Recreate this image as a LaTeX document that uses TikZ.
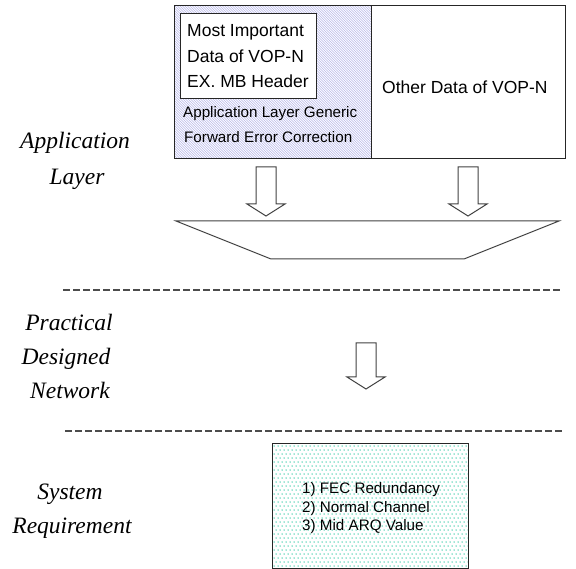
\documentclass[tikz,border=0pt]{standalone}
\usepackage{fontspec}
\setmainfont{Liberation Serif}
\newfontfamily\arialf{Liberation Sans}
\newcommand\blkarrow[5]{% name, x, ytop, yhead, ytip
  \coordinate (#1) at (#2,#5);
  \draw[arrline] (#2-10,#3) -- (#2+10,#3) -- (#2+10,#4) -- (#2+19,#4) -- (#2,#5)
     -- (#2-19,#4) -- (#2-10,#4) -- cycle;}
\definecolor{hatchc}{RGB}{180,180,232}
\definecolor{dotc}{RGB}{60,205,170}
\begin{document}
\begin{tikzpicture}[x=1pt,y=-1pt,
  lay/.style={font=\fontsize{23.5}{28}\selectfont\itshape, inner sep=0pt, anchor=base},
  big/.style={font=\arialf\fontsize{17.5}{21}\selectfont, inner sep=0pt, anchor=base west},
  small/.style={font=\arialf\fontsize{15.2}{18}\selectfont, inner sep=0pt, anchor=base west},
  boxline/.style={draw=black!85, line width=1pt},
  arrline/.style={draw=black!75, line width=1pt, line join=miter},
  sepline/.style={draw=black!70, line width=1.1pt, dash pattern=on 7pt off 3pt}]
\useasboundingbox (0,0) rectangle (576,569);

% top boxes: hatched part
\begin{scope}
  \clip (174,5) rectangle (371,158);
  \foreach \i in {0,1,...,145} {
    \draw[hatchc, line width=0.45pt] (174-160+2.5*\i,5) -- ++(160,160);
  }
\end{scope}
\node[boxline, minimum width=391pt, minimum height=153pt, inner sep=0pt, anchor=north west] (top) at (174,5) {};
\draw[boxline] (371,5) -- (371,158);
\node[boxline, fill=white, minimum width=136pt, minimum height=85pt, inner sep=0pt, anchor=north west] (mi) at (180,13) {};

\node[big] (mi1) at (187,37) {Most Important};
\node[big] (mi2) at (187,63) {Data of VOP-N};
\node[big] (mi3) at (187,88) {EX. MB Header};
\node[small] (fec1) at (183,118) {Application Layer Generic};
\node[small] (fec2) at (184,143) {Forward Error Correction};
\node[big] (oth) at (382,94) {Other Data of VOP-N};

% arrows
\blkarrow{a1}{266}{167}{204}{216}
\blkarrow{a2}{468}{167}{204}{216}

% trapezoid
\draw[arrline] (176,221) -- (559,221) -- (464,259) -- (271,259) -- cycle;

% separators
\coordinate (s1a) at (63,290); \coordinate (s1b) at (562,290);
\coordinate (s2a) at (65,431); \coordinate (s2b) at (562,431);
\draw[sepline] (s1a) -- (s1b);
\draw[sepline] (s2a) -- (s2b);

\blkarrow{a3}{366}{343}{377}{389}

% bottom box with dotted fill
\begin{scope}
  \clip (272,443) rectangle (468,568);
  \foreach \r in {0,1,...,31} {
    \pgfmathsetmacro\yy{446+4*\r}
    \pgfmathsetmacro\xo{274+2*mod(\r,2)}
    \foreach \c in {0,1,...,49} {
      \fill[dotc] (\xo+4*\c,\yy) circle (0.75pt);
    }
  }
\end{scope}
\node[boxline, minimum width=196pt, minimum height=125pt, inner sep=0pt, anchor=north west] (req) at (272,443) {};
\node[small] (r1) at (302,493) {1) FEC Redundancy};
\node[small] (r2) at (302,512) {2) Normal Channel};
\node[small] (r3) at (302,530) {3) Mid ARQ Value};

% layer labels
\node[lay] (l1) at (75,149) {Application};
\node[lay] (l2) at (77,185) {Layer};
\node[lay] (l3) at (69,331) {Practical};
\node[lay] (l4) at (66,365) {Designed};
\node[lay] (l5) at (70,399) {Network};
\node[lay] (l6) at (70,499) {System};
\node[lay] (l7) at (72,533) {Requirement};
\end{tikzpicture}
\end{document}
